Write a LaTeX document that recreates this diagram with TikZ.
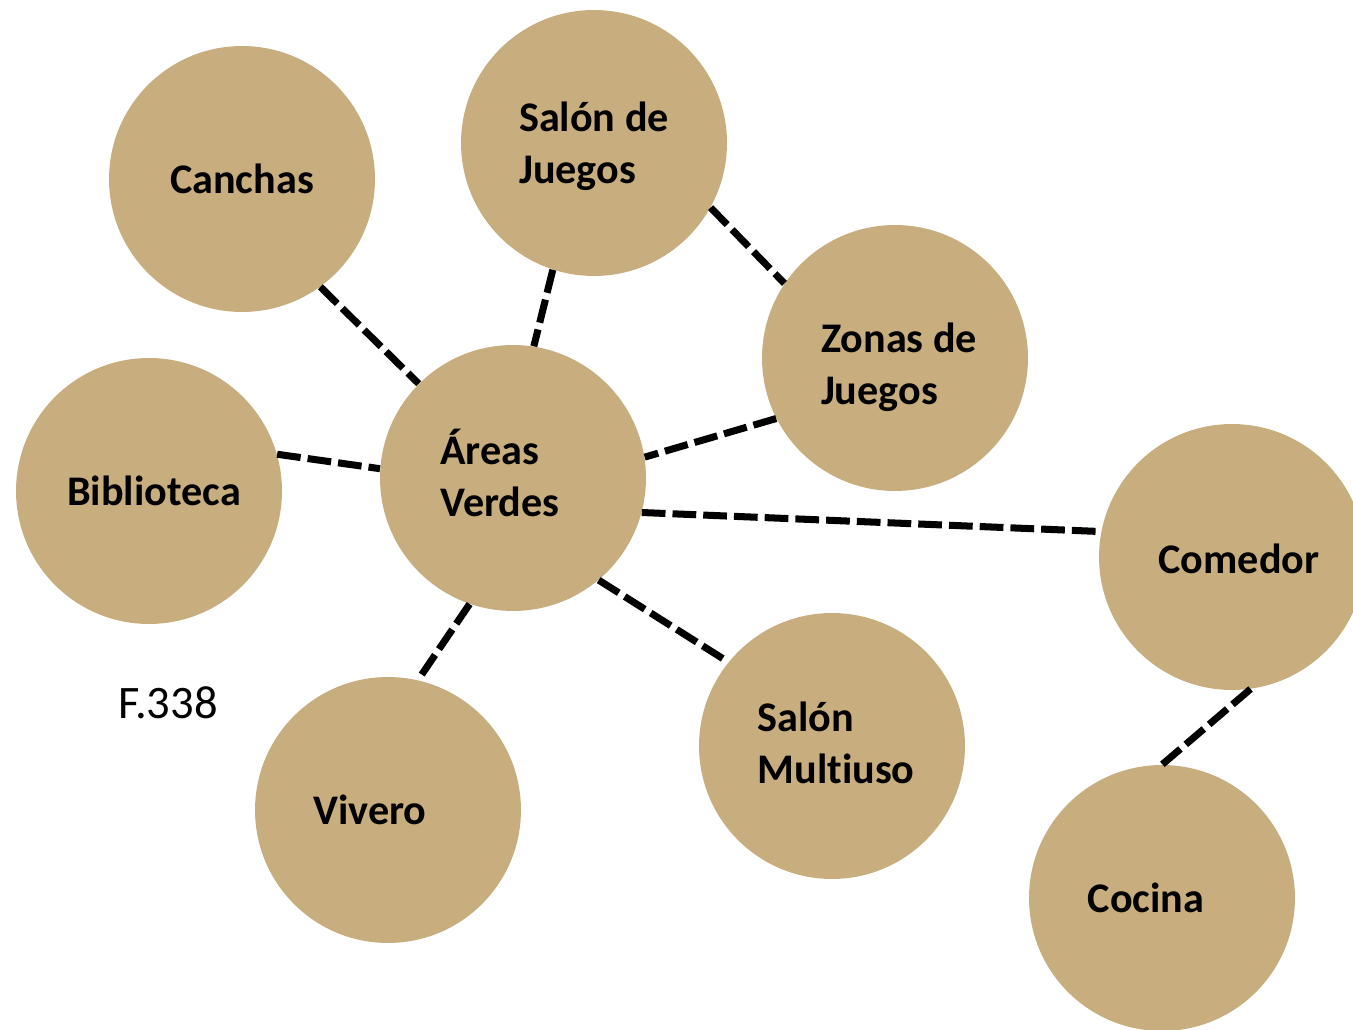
\documentclass[tikz,border=0pt]{standalone}
\usepackage{fontspec}
\setmainfont{Carlito}[Ligatures=CommonOff]
\definecolor{sand}{RGB}{200,173,126}
\tikzset{
  bubble/.style={circle,fill=sand,minimum size=5.32cm,inner sep=0pt,
    font=\fontsize{24}{29.6}\selectfont\bfseries,align=left},
  inlabel/.style={font=\fontsize{24}{29.6}\selectfont\bfseries,align=left},
  link/.style={line width=4pt,dash pattern=on 13.5pt off 4pt}
}
\begin{document}
\begin{tikzpicture}[x=0.02cm,y=-0.02cm]
\path[use as bounding box] (0,0) rectangle (1353,1030);
\clip (0,0) rectangle (1353,1030);
\node[bubble] (canchas) at (242,179) {Canchas};
\node[bubble,label={[inlabel,yshift=-0.06cm]center:Salón de\\Juegos}] (salon) at (594,143) {};
\node[bubble,label={[inlabel,xshift=0.08cm,yshift=-0.18cm]center:Zonas de\\Juegos}] (zonas) at (895,358) {};
\node[bubble,label={[inlabel,xshift=0.1cm]center:Biblioteca}] (biblio) at (149,491) {};
\node[bubble,label={[inlabel,xshift=-0.26cm,yshift=0.1cm]center:Áreas\\Verdes}] (areas) at (513,478) {};
\node[bubble,label={[inlabel,xshift=0.14cm,yshift=-0.04cm]center:Comedor}] (comedor) at (1232,557) {};
\node[bubble,label={[inlabel,xshift=0.08cm,yshift=0.06cm]center:Salón\\Multiuso}] (multi) at (832,746) {};
\node[bubble,label={[inlabel,xshift=-0.36cm]center:Vivero}] (vivero) at (388,810) {};
\node[bubble,label={[inlabel,xshift=-0.32cm]center:Cocina}] (cocina) at (1162,898) {};
\node[font=\fontsize{26.5}{30}\selectfont] (fig) at (168,703) {F.338};
\draw[link] (canchas.306) -- (areas.135);
\draw[link] (salon.252) -- (areas.81);
\draw[link] (salon.331) -- (zonas.146);
\draw[link] (zonas.207) -- (areas.9.5);
\draw[link] (biblio.16) -- (areas.176.5);
\draw[link] (areas.345) -- (comedor.169);
\draw[link] (areas.310) -- (multi.141);
\draw[link] (areas.251) -- (vivero.77);
\draw[link] (comedor.278) -- (cocina.90);
\end{tikzpicture}
\end{document}
